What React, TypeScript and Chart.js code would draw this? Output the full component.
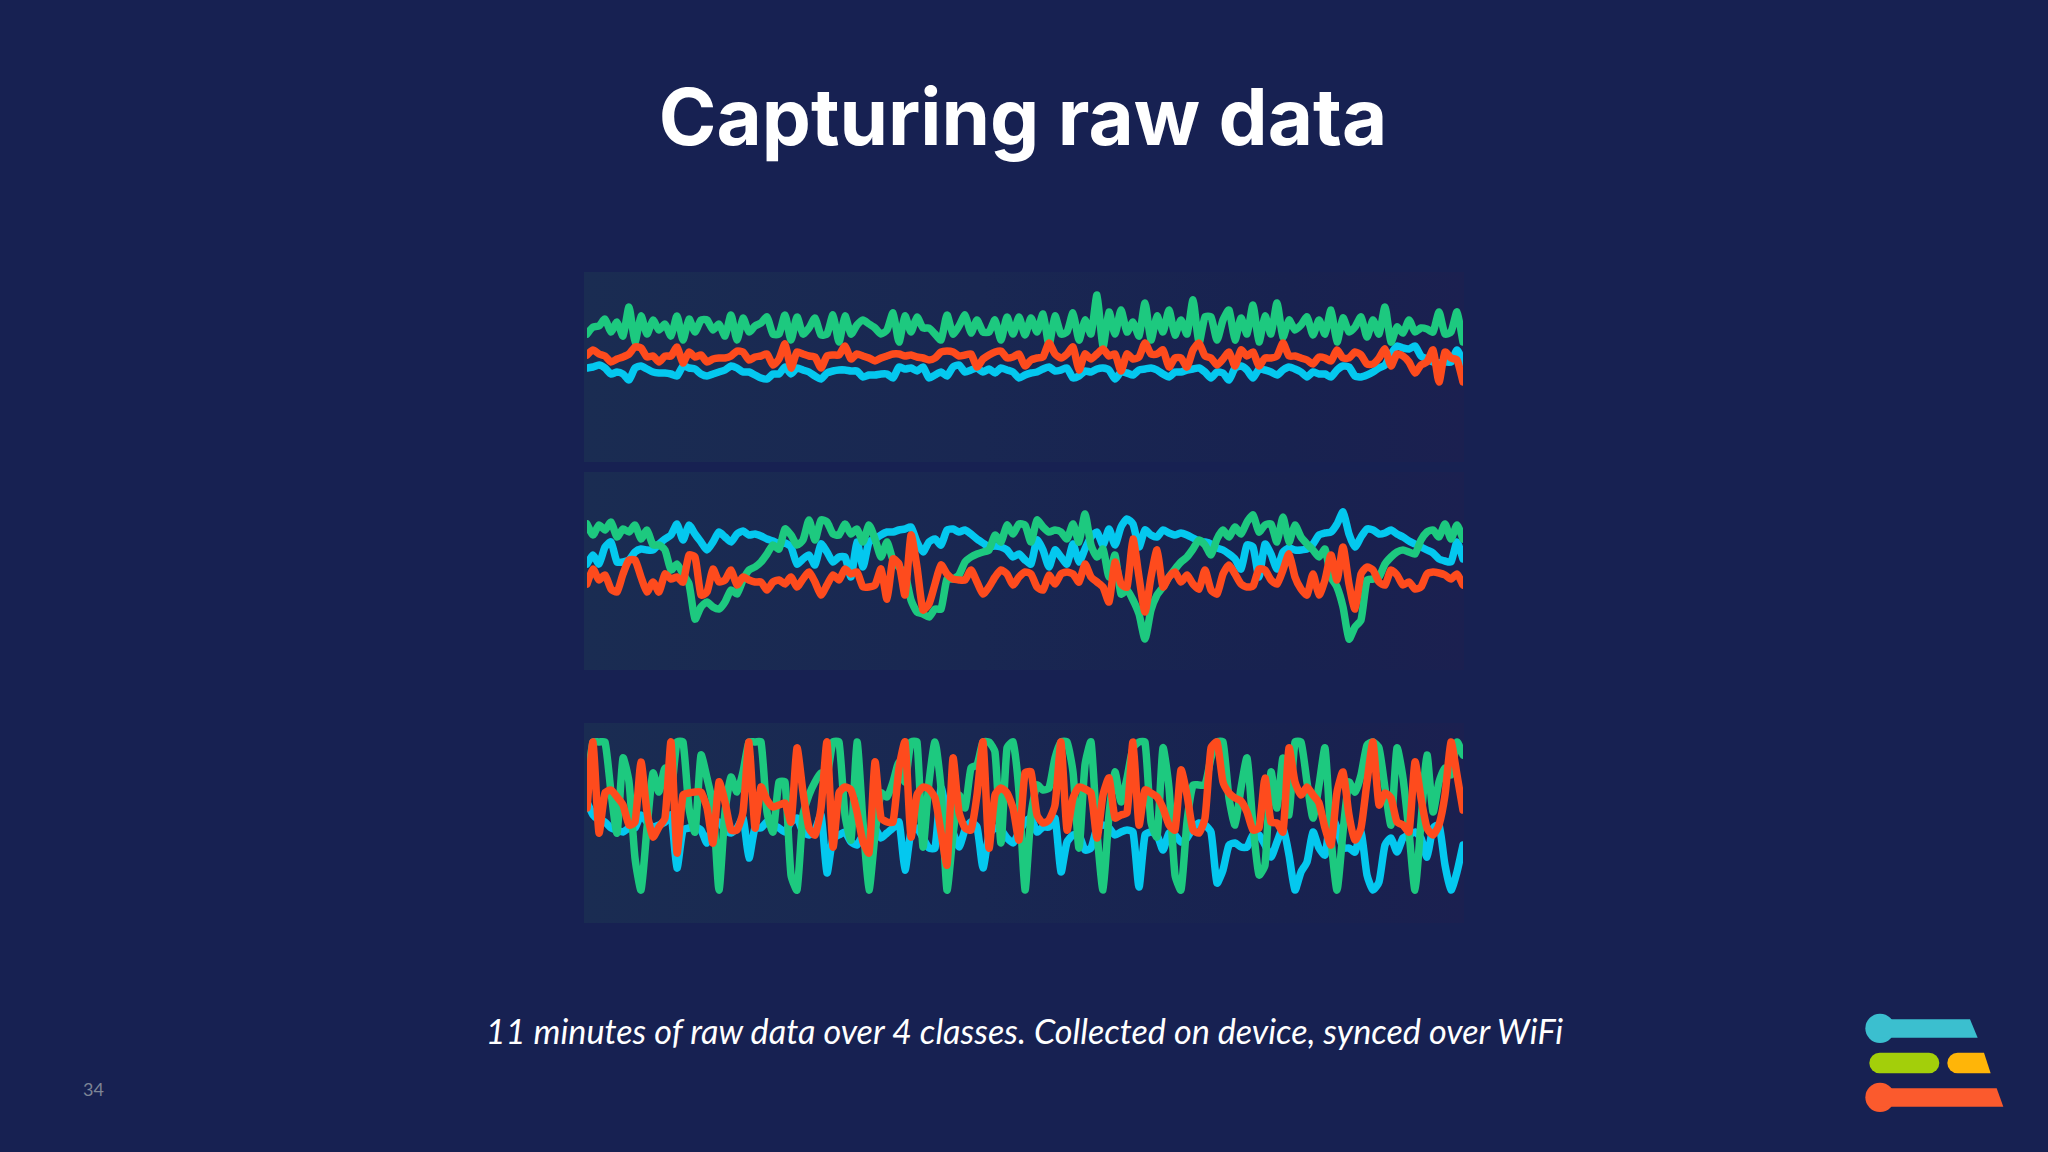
import { useEffect, useRef } from "react";
import { Chart, registerables } from "chart.js";

Chart.register(...registerables);

const GREEN = "#1dc97f";
const CYAN = "#04c8ef";
const RED = "#fe4b1d";

// accelerometer traces, one sample per 6px of width
const walkGreen = [
  128,135,136,143,130,140,126,155,120,146,
  128,142,132,138,126,146,122,143,130,142,
  142,132,138,126,147,122,144,130,136,139,
  145,128,128,147,122,145,128,134,144,127,
  128,147,120,146,128,137,142,138,134,128,
  132,149,120,146,130,145,134,134,128,122,
  147,128,136,147,129,142,130,130,142,122,
  145,128,145,127,144,130,148,117,146,128,
  130,149,122,142,128,167,115,150,128,152,
  130,140,126,159,122,146,130,152,127,142,
  128,162,119,145,145,122,142,152,122,144,
  128,157,120,146,128,159,125,142,132,137,
  145,127,142,128,152,120,144,130,135,145,
  125,142,128,155,120,135,129,142,130,134,
  133,130,150,128,130,150,120,
];
const walkRed = [
  107,112,108,106,100,103,105,108,115,114,
  105,106,100,106,106,115,99,110,105,107,
  100,103,104,104,106,111,110,102,105,106,
  108,97,103,118,94,110,108,106,105,94,
  106,107,107,116,103,108,106,104,101,104,
  106,108,108,106,107,105,104,102,104,110,
  111,110,106,107,108,95,103,107,110,111,
  104,105,108,96,102,104,105,119,108,104,
  108,115,92,108,103,108,113,106,108,91,
  108,103,105,119,108,108,112,95,104,104,
  95,112,119,106,104,97,103,110,96,112,
  106,110,96,104,104,106,119,106,106,104,
  102,98,105,104,101,112,104,104,110,107,
  98,98,104,113,96,108,106,100,89,97,
  100,112,80,110,104,102,80,
];
const walkCyan = [
  94,95,97,94,88,90,88,82,94,96,
  93,90,89,89,88,86,96,94,93,88,
  86,88,90,92,96,94,90,90,87,84,
  83,88,88,95,88,94,92,90,86,83,
  89,91,92,92,91,91,85,87,87,88,
  88,84,95,93,94,91,95,84,87,90,
  86,95,97,90,92,94,90,93,89,94,
  92,90,84,87,89,90,93,95,91,92,
  94,84,86,91,90,93,94,92,83,90,
  89,87,92,93,94,92,88,85,90,90,
  92,93,94,90,84,90,89,82,94,96,
  92,84,93,92,90,87,92,95,93,90,
  85,90,88,88,85,92,96,95,86,85,
  87,90,94,97,108,116,114,113,116,106,
  103,100,99,100,100,112,100,
];

const waveGreen = [
  146,135,145,140,148,133,141,138,145,131,
  140,125,125,120,100,106,96,86,51,63,
  68,63,61,68,80,76,90,100,103,108,
  116,125,121,141,135,125,130,150,130,150,
  148,136,135,146,136,141,128,145,131,113,
  128,110,103,96,70,58,56,53,61,61,
  91,91,95,108,113,116,118,120,135,128,
  145,136,146,145,128,150,143,138,140,138,
  131,146,128,156,125,113,121,93,115,76,
  80,70,56,31,60,75,83,93,101,108,
  113,121,130,125,115,131,140,133,143,136,
  148,155,138,145,146,128,153,128,145,133,
  126,120,113,121,93,83,63,31,43,50,
  90,91,93,106,113,118,120,118,116,130,
  138,140,133,146,131,145,131,
];
const waveRed = [
  86,101,90,95,81,78,96,110,110,93,
  78,88,78,96,91,93,88,115,113,75,
  78,101,88,90,100,85,93,90,88,88,
  80,88,90,86,93,83,91,98,88,75,
  85,95,90,101,96,98,83,83,85,101,
  71,111,106,75,135,103,60,66,86,105,
  96,91,90,90,100,88,76,83,93,100,
  96,85,93,98,96,83,80,95,86,96,
  98,96,88,106,93,88,83,68,108,86,
  83,131,93,58,93,120,83,93,98,88,
  95,86,81,100,80,76,96,105,96,86,
  83,84,101,100,90,86,100,116,93,81,
  75,96,75,90,115,90,123,86,61,96,
  103,100,88,85,100,95,85,88,81,83,
  96,98,97,95,91,96,85,
];
const waveCyan = [
  106,115,106,123,128,108,108,110,118,121,
  120,120,126,131,135,146,130,145,136,128,
  120,128,138,133,128,136,139,135,136,134,
  131,129,126,127,123,106,111,115,105,126,
  118,108,113,113,93,128,103,128,131,135,
  138,138,140,141,143,128,118,128,131,125,
  140,141,138,140,136,131,127,123,124,123,
  120,113,116,110,106,130,120,103,120,113,
  106,126,108,121,133,138,125,141,125,143,
  151,146,123,140,135,133,140,137,135,137,
  135,132,129,128,126,122,120,116,111,101,
  125,123,93,126,116,101,118,122,120,120,
  121,126,135,137,138,146,158,136,123,133,
  141,140,136,137,140,136,133,129,126,123,
  120,117,111,109,108,128,111,
];

const runGreen = [
  138,181,181,181,131,90,165,141,65,33,
  95,150,131,155,131,181,181,115,91,168,
  145,118,33,111,146,131,151,181,181,181,
  111,91,141,141,48,33,108,128,141,150,
  148,181,181,108,83,181,101,33,88,130,
  126,141,161,141,181,181,76,141,181,135,
  33,88,128,115,155,158,181,181,171,80,
  175,181,131,33,108,138,133,135,165,181,
  181,151,75,158,181,91,33,108,151,121,
  145,175,181,181,101,86,175,135,48,33,
  101,138,138,138,165,181,181,125,98,135,
  165,98,48,58,151,115,165,108,181,181,
  141,105,138,175,85,33,91,141,131,148,
  178,181,175,135,98,175,145,91,33,101,
  168,111,141,155,148,181,168,
];
const runRed = [
  115,181,90,130,133,126,118,98,101,161,
  111,86,96,105,181,70,128,130,131,131,
  115,80,141,121,93,93,111,181,95,136,
  123,116,118,120,101,175,131,95,88,115,
  181,76,130,136,133,111,81,70,161,105,
  101,101,155,181,86,128,136,134,125,91,
  58,165,111,95,93,128,181,75,128,135,
  130,115,83,150,151,108,100,103,118,181,
  93,125,136,134,130,85,128,145,105,108,
  110,181,98,133,130,126,115,98,93,153,
  128,93,90,105,175,181,141,130,125,122,
  111,93,95,145,101,100,91,175,141,128,
  136,128,120,95,78,131,151,108,83,95,
  141,181,118,130,125,101,98,91,161,125,
  95,88,98,128,181,148,113,
];
const runCyan = [
  121,108,103,101,95,93,91,95,95,108,
  101,96,98,101,108,55,93,95,96,93,
  80,98,101,93,90,95,105,65,95,95,
  101,98,95,91,101,105,91,88,93,108,
  50,85,88,91,81,78,88,91,95,85,
  90,95,101,53,91,95,85,75,75,135,
  108,91,76,93,101,96,55,88,95,93,
  85,80,91,101,105,91,96,96,105,51,
  81,88,88,73,75,95,98,95,88,91,
  93,91,36,88,91,88,73,90,88,81,
  85,95,100,98,91,40,53,78,80,76,
  76,88,88,78,66,81,95,68,33,51,
  61,91,75,68,108,95,75,75,71,91,
  48,33,41,78,85,71,85,88,91,85,
  66,95,98,58,33,51,78,
];

interface PanelProps {
  top: number;
  height: number;
  green: number[];
  red: number[];
  cyan: number[];
}

function TracePanel({ top, height, green, red, cyan }: PanelProps) {
  const canvasRef = useRef<HTMLCanvasElement>(null);

  useEffect(() => {
    if (!canvasRef.current) return;
    const line = (label: string, data: number[], color: string) => ({
      label,
      data,
      borderColor: color,
      borderWidth: 7.5,
      borderJoinStyle: "round" as const,
      borderCapStyle: "round" as const,
      pointRadius: 0,
      tension: 0.2,
      clip: 0,
    });
    // chart.js paints the first dataset last, so red goes first to sit on top
    const chart = new Chart(canvasRef.current, {
      type: "line",
      data: {
        labels: green.map((_, i) => String(i)),
        datasets: [line("x", red, RED), line("y", green, GREEN), line("z", cyan, CYAN)],
      },
      options: {
        animation: false,
        responsive: true,
        maintainAspectRatio: false,
        layout: { padding: 0 },
        plugins: { legend: { display: false }, tooltip: { enabled: false } },
        scales: {
          x: { display: false },
          y: { display: false, min: 0, max: height },
        },
      },
    });
    return () => chart.destroy();
  }, [height, green, red, cyan]);

  return (
    <div
      style={{
        position: "absolute",
        left: 584,
        top,
        width: 880,
        height,
        background: "linear-gradient(90deg, #1a2c52 0%, #192752 45%, #182250 80%, #1b2050 100%)",
      }}
    >
      <div style={{ position: "absolute", left: 3, top: 0, width: 876, height }}>
        <canvas ref={canvasRef} />
      </div>
    </div>
  );
}

function Logo() {
  return (
    <svg
      viewBox="0 0 570 360"
      style={{ position: "absolute", left: 1840, top: 1000, width: 190, height: 120 }}
    >
      <circle cx="120" cy="85" r="44" fill="#3bbfcf" />
      <path d="M120 58H390L413 113H120Z" fill="#3bbfcf" />
      <rect x="88" y="158" width="210" height="62" rx="31" fill="#a3cf0a" />
      <path d="M353 158H432L452 220H353A31 31 0 0 1 353 158Z" fill="#ffb508" />
      <circle cx="120" cy="292" r="44" fill="#fb5a2d" />
      <path d="M120 265H470L490 320H120Z" fill="#fb5a2d" />
    </svg>
  );
}

export default function App() {
  return (
    <div style={{ position: "fixed", inset: 0, background: "#172152", overflow: "hidden" }}>
      <div
        style={{
          position: "absolute",
          left: 0,
          width: 2046,
          top: 67,
          textAlign: "center",
          color: "#fff",
          fontFamily: "Inter",
          fontWeight: 700,
          fontSize: 78,
          lineHeight: "100px",
        }}
      >
        Capturing raw data
      </div>

      <TracePanel top={272} height={190} green={walkGreen} red={walkRed} cyan={walkCyan} />
      <TracePanel top={472} height={198} green={waveGreen} red={waveRed} cyan={waveCyan} />
      <TracePanel top={723} height={200} green={runGreen} red={runRed} cyan={runCyan} />

      <div
        style={{
          position: "absolute",
          left: 0,
          width: 2049,
          top: 1008,
          textAlign: "center",
          color: "#fff",
          fontFamily: "Lato",
          fontStyle: "italic",
          fontSize: 34.2,
          lineHeight: "46px",
        }}
      >
        11 minutes of raw data over 4 classes. Collected on device, synced over WiFi
      </div>

      <div
        style={{
          position: "absolute",
          left: 83,
          top: 1078,
          color: "#7d8596",
          fontFamily: "Lato",
          fontSize: 18,
          lineHeight: "22px",
        }}
      >
        34
      </div>

      <Logo />
    </div>
  );
}
